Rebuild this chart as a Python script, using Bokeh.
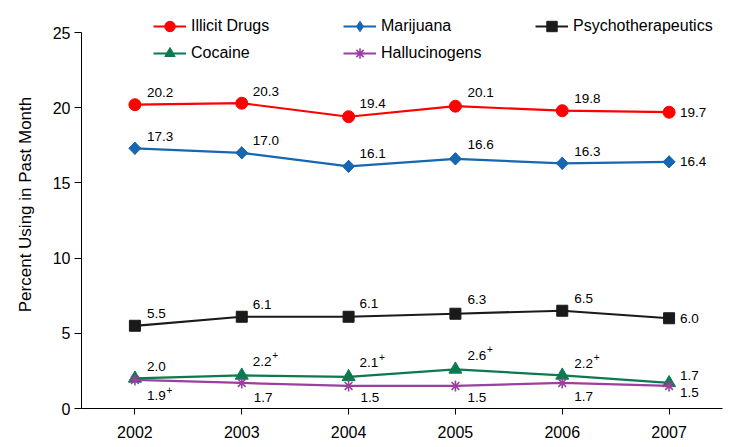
import math
from bokeh.plotting import figure
from bokeh.models import Range1d, FixedTicker, Legend, LegendItem, ColumnDataSource
from bokeh.embed import file_html
from bokeh.resources import INLINE
from bokeh.core.properties import value

years = [2002, 2003, 2004, 2005, 2006, 2007]
year_labels = ["2002", "2003", "2004", "2005", "2006", "2007"]
illicit = [20.2, 20.3, 19.4, 20.1, 19.8, 19.7]
marijuana = [17.3, 17.0, 16.1, 16.6, 16.3, 16.4]
psycho = [5.5, 6.1, 6.1, 6.3, 6.5, 6.0]
cocaine = [2.0, 2.2, 2.1, 2.6, 2.2, 1.7]
halluc = [1.9, 1.7, 1.5, 1.5, 1.7, 1.5]
cocaine_sig = ["", "+", "+", "+", "+", ""]
halluc_sig = ["+", "", "", "", "", ""]
y_ticks = [0, 5, 10, 15, 20, 25]

FONT = "Liberation Sans"

p = figure(width=730, height=440, output_backend="svg", toolbar_location=None,
           x_range=Range1d(2001.5, 2007.5), y_range=Range1d(0, 27.128),
           min_border_left=81, min_border_right=8, min_border_top=0, min_border_bottom=32)
p.outline_line_color = None
p.grid.grid_line_color = None
p.background_fill_color = "white"

p.xaxis.ticker = FixedTicker(ticks=years)
p.xaxis.major_label_overrides = {y: s for y, s in zip(years, year_labels)}
p.xaxis.major_tick_in = 0
p.xaxis.major_tick_out = 6
p.xaxis.minor_tick_out = 0
p.xaxis.minor_tick_in = 0
p.xaxis.major_label_standoff = 11
p.yaxis.ticker = FixedTicker(ticks=y_ticks)
p.yaxis.bounds = (0, 25)
p.yaxis.major_tick_in = 0
p.yaxis.major_tick_out = 7
p.yaxis.minor_tick_out = 0
p.yaxis.minor_tick_in = 0
p.yaxis.major_label_standoff = 4
p.yaxis.axis_label = "Percent Using in Past Month"
p.yaxis.axis_label_standoff = 15
for ax in (p.xaxis, p.yaxis):
    ax.axis_line_color = "black"
    ax.major_tick_line_color = "black"
    ax.major_label_text_font = FONT
    ax.major_label_text_font_size = "16px"
    ax.major_label_text_color = "black"
    ax.axis_label_text_font = FONT
    ax.axis_label_text_font_size = "17px"
    ax.axis_label_text_font_style = "normal"
    ax.axis_label_text_color = "black"

# name, values, colour, marker, size, angle, legend marker, significance marks
series = [
    ("Illicit Drugs", illicit, "#FF0000", "circle", 12, 0, "circle", [""] * 6),
    ("Marijuana", marijuana, "#1666B2", "square", 8.6, math.pi / 4, "diamond", [""] * 6),
    ("Psychotherapeutics", psycho, "#1A1A1A", "square", 11, 0, "square", [""] * 6),
    ("Cocaine", cocaine, "#0B7A4E", "triangle", 13, 0, "triangle", cocaine_sig),
    ("Hallucinogens", halluc, "#9B3FA0", "asterisk", 11, 0, "asterisk", halluc_sig),
]

items = {}
for name, vals, color, marker, size, ang, lmarker, sig in series:
    src = ColumnDataSource(dict(x=years, y=vals,
                                lab=["%.1f" % v for v in vals], sig=sig))
    lr = p.line("x", "y", source=src, line_color=color, line_width=2.2)
    lm = None
    if lmarker != marker:
        # diamond drawn under the rotated square; gives the legend its diamond
        lm = p.scatter("x", "y", source=src, marker=lmarker, size=12,
                       fill_color=color, line_color=color)
    if marker == "asterisk":
        sr = p.scatter("x", "y", source=src, marker=marker, size=size,
                       line_color=color, line_width=1.6)
    else:
        sr = p.scatter("x", "y", source=src, marker=marker, size=size, angle=ang,
                       fill_color=color, line_color=color)
    items[name] = [lr, lm if lm is not None else sr]
    if name == "Hallucinogens":
        xo = [12, 12, 12, 12, 12, 11]
        yo = [16, 15, 12, 12, 14, 7]
    elif name == "Cocaine":
        xo = [12, 11, 11, 12, 12, 11]
        yo = [-12, -14, -14, -14, -12, -7]
    else:
        xo = [12, 11, 11, 12, 12, 11]
        yo = [-12, -12, -13, -14, -12, 0]
    src.data["xo"] = xo
    src.data["yo"] = yo
    src.data["sxo"] = [o + 19.5 for o in xo]
    src.data["syo"] = [o - 6 for o in yo]
    p.text("x", "y", text="lab", source=src, x_offset="xo", y_offset="yo",
           text_font=value(FONT), text_font_size="13.5px", text_color="black",
           text_align="left", text_baseline="middle")
    p.text("x", "y", text="sig", source=src, x_offset="sxo", y_offset="syo",
           text_font=value(FONT), text_font_size="10px", text_color="black",
           text_align="left", text_baseline="middle")

def mk_legend(names, loc):
    lg = Legend(items=[LegendItem(label=n, renderers=items[n]) for n in names],
                location=loc, orientation="vertical",
                label_text_font=FONT, label_text_font_size="16px",
                label_text_color="black", glyph_width=33, glyph_height=26,
                label_height=26, label_standoff=5, spacing=1, padding=0, margin=0,
                border_line_color=None, background_fill_alpha=0)
    p.add_layout(lg, "center")

mk_legend(["Illicit Drugs", "Cocaine"], (72, 342))
mk_legend(["Marijuana", "Hallucinogens"], (262, 342))
mk_legend(["Psychotherapeutics"], (454, 369))

open("out.html", "w").write(file_html(p, INLINE))
